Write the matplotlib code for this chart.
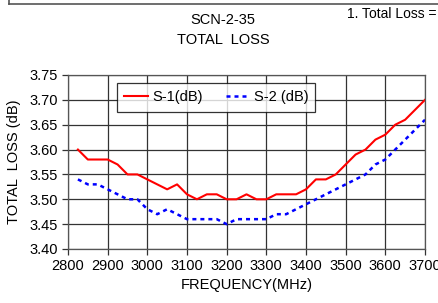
import numpy as np
import matplotlib
matplotlib.use('Agg')
import matplotlib.pyplot as plt
from matplotlib.lines import Line2D

plt.rcParams['font.family'] = ['Liberation Sans', 'DejaVu Sans']

#------------------------------
#values
freq = [2825, 2850, 2875, 2900, 2925, 2950, 2975, 3000, 3025, 3050, 3075, 3100,
        3125, 3150, 3175, 3200, 3225, 3250, 3275, 3300, 3325, 3350, 3375, 3400,
        3425, 3450, 3475, 3500, 3525, 3550, 3575, 3600, 3625, 3650, 3675, 3700]
s1 = [3.600, 3.580, 3.580, 3.580, 3.570, 3.550, 3.550, 3.540, 3.530, 3.520, 3.530, 3.510,
      3.500, 3.510, 3.510, 3.500, 3.500, 3.510, 3.500, 3.500, 3.510, 3.510, 3.510, 3.520,
      3.540, 3.540, 3.550, 3.570, 3.590, 3.600, 3.620, 3.630, 3.650, 3.660, 3.680, 3.700]
s2 = [3.540, 3.530, 3.530, 3.520, 3.510, 3.500, 3.500, 3.480, 3.470, 3.480, 3.470, 3.460,
      3.460, 3.460, 3.460, 3.450, 3.460, 3.460, 3.460, 3.460, 3.470, 3.470, 3.480, 3.490,
      3.500, 3.510, 3.520, 3.530, 3.540, 3.550, 3.570, 3.580, 3.600, 3.620, 3.640, 3.660]
xticks = [2800, 2900, 3000, 3100, 3200, 3300, 3400, 3500, 3600, 3700]
yticks = [3.40, 3.45, 3.50, 3.55, 3.60, 3.65, 3.70, 3.75]

#------------------------------
#figure
W, H = 438, 303
fig = plt.figure(figsize=(W / 100, H / 100), dpi=100)
ax = fig.add_axes([68 / W, (H - 249) / H, (425 - 68) / W, (249 - 75) / H])

ax.plot(freq, s1, color='#ff0000', lw=1.5, label='S-1(dB)')
ax.plot(freq, s2, color='#0000ff', lw=1.8, linestyle=(0, (1.6, 1.6)), label='S-2 (dB)')

ax.set_xlim(2800, 3700)
ax.set_ylim(3.40, 3.75)
ax.set_xticks(xticks)
ax.set_yticks(yticks)
ax.set_yticklabels(['%.2f' % v for v in yticks])
ax.grid(True, color='#333333', lw=0.9)
for s in ax.spines.values():
    s.set_color('#555555')
    s.set_linewidth(0.9)
ax.tick_params(axis='both', labelsize=10.5, color='#333333', length=4, width=0.9, pad=3)

ax.set_xlabel('FREQUENCY(MHz)', fontsize=10.5, labelpad=4)
ax.set_ylabel('TOTAL  LOSS (dB)', fontsize=10.5, labelpad=6)

leg = ax.legend(loc='upper left', bbox_to_anchor=((117 - 68) / (425 - 68), 1 - (83 - 75) / (249 - 75)),
                ncol=2, fontsize=10.5, frameon=True, fancybox=False, borderaxespad=0,
                handlelength=1.65, columnspacing=1.6, handletextpad=0.25, borderpad=0.5)
leg.get_frame().set_edgecolor('black')
leg.get_frame().set_linewidth(0.9)

#------------------------------
#titles
fig.text(223 / W, 1 - 20 / H, 'SCN-2-35', ha='center', va='center', fontsize=10.5)
fig.text(223 / W, 1 - 40 / H, 'TOTAL  LOSS', ha='center', va='center', fontsize=10.5)
fig.text(347 / W, 1 - 14 / H, '1. Total Loss =', ha='left', va='center', fontsize=10)

#top table fragment
fig.add_artist(Line2D([9 / W, 1], [1 - 4 / H, 1 - 4 / H], color='#555555', lw=1.2))
fig.add_artist(Line2D([9 / W, 9 / W], [1 - 4 / H, 1], color='#555555', lw=1.2))

fig.savefig('out.png', dpi=100)
